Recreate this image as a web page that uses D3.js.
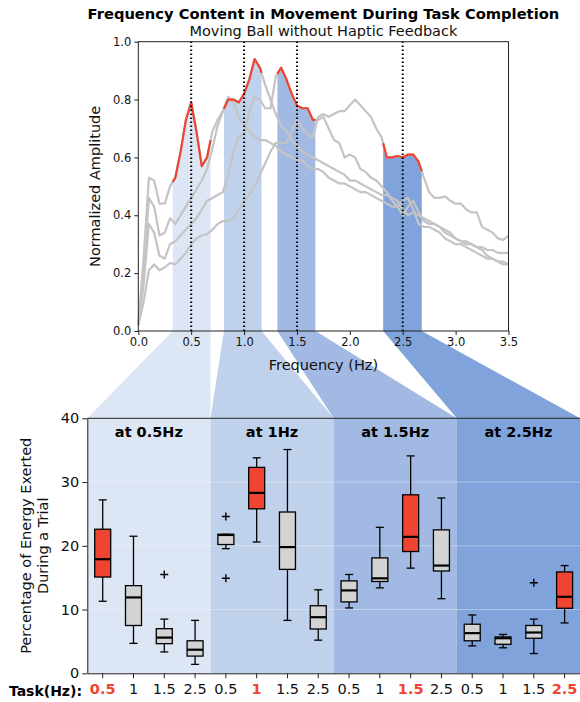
<!DOCTYPE html>
<html>
<head>
<meta charset="utf-8">
<script src="https://cdn.jsdelivr.net/npm/d3@7/dist/d3.min.js"></script>
<style>
  body { margin: 0; background: #fff; }
  svg { font-family: "DejaVu Sans", Verdana, sans-serif; }
</style>
</head>
<body>
<svg id="chart" width="580" height="702"></svg>
<script>
"use strict";

// frequency grid of the spectra (Hz)
var freqs = [0.00, 0.05, 0.10, 0.15, 0.20, 0.25, 0.30, 0.35, 0.40, 0.45,
  0.50, 0.55, 0.60, 0.65, 0.70, 0.75, 0.80, 0.85, 0.90, 0.95,
  1.00, 1.05, 1.10, 1.15, 1.20, 1.25, 1.30, 1.35, 1.40, 1.45,
  1.50, 1.55, 1.60, 1.65, 1.70, 1.75, 1.80, 1.85, 1.90, 1.95,
  2.00, 2.05, 2.10, 2.15, 2.20, 2.25, 2.30, 2.35, 2.40, 2.45,
  2.50, 2.55, 2.60, 2.65, 2.70, 2.75, 2.80, 2.85, 2.90, 2.95,
  3.00, 3.05, 3.10, 3.15, 3.20, 3.25, 3.30, 3.35, 3.40, 3.45, 3.50];

// normalized amplitude of the four trials
var amp_a = [0.02, 0.25, 0.53, 0.52, 0.44, 0.44, 0.50, 0.53, 0.62, 0.73,
  0.79, 0.69, 0.57, 0.60, 0.69, 0.73, 0.76, 0.81, 0.79, 0.74,
  0.71, 0.69, 0.67, 0.66, 0.66, 0.65, 0.64, 0.62, 0.61, 0.60,
  0.59, 0.59, 0.57, 0.56, 0.56, 0.55, 0.53, 0.52, 0.51, 0.51,
  0.50, 0.49, 0.48, 0.48, 0.47, 0.46, 0.45, 0.44, 0.43, 0.43,
  0.45, 0.46, 0.42, 0.37, 0.36, 0.36, 0.35, 0.34, 0.32, 0.31,
  0.30, 0.30, 0.29, 0.28, 0.27, 0.26, 0.25, 0.25, 0.24, 0.24, 0.23];
var amp_b = [0.02, 0.20, 0.46, 0.43, 0.33, 0.34, 0.39, 0.37, 0.40, 0.43,
  0.46, 0.49, 0.52, 0.56, 0.63, 0.71, 0.76, 0.80, 0.80, 0.79,
  0.82, 0.87, 0.94, 0.91, 0.85, 0.80, 0.75, 0.71, 0.69, 0.66,
  0.64, 0.62, 0.61, 0.60, 0.59, 0.58, 0.57, 0.56, 0.55, 0.54,
  0.52, 0.52, 0.51, 0.50, 0.49, 0.48, 0.47, 0.47, 0.46, 0.45,
  0.42, 0.40, 0.41, 0.40, 0.39, 0.38, 0.37, 0.36, 0.35, 0.34,
  0.32, 0.31, 0.30, 0.30, 0.29, 0.29, 0.28, 0.28, 0.27, 0.27, 0.27];
var amp_c = [0.02, 0.16, 0.37, 0.34, 0.26, 0.25, 0.30, 0.31, 0.33, 0.35,
  0.37, 0.39, 0.42, 0.45, 0.46, 0.47, 0.48, 0.54, 0.62, 0.67,
  0.68, 0.76, 0.81, 0.80, 0.77, 0.77, 0.88, 0.91, 0.87, 0.82,
  0.78, 0.77, 0.77, 0.73, 0.73, 0.74, 0.70, 0.66, 0.65, 0.60,
  0.61, 0.60, 0.56, 0.55, 0.53, 0.52, 0.50, 0.48, 0.45, 0.43,
  0.40, 0.43, 0.45, 0.41, 0.38, 0.37, 0.37, 0.36, 0.34, 0.33,
  0.32, 0.31, 0.31, 0.30, 0.29, 0.28, 0.26, 0.25, 0.24, 0.23, 0.23];
var amp_d = [0.02, 0.10, 0.21, 0.23, 0.21, 0.22, 0.235, 0.23, 0.25, 0.27,
  0.30, 0.32, 0.33, 0.335, 0.35, 0.37, 0.38, 0.38, 0.39, 0.42,
  0.45, 0.47, 0.50, 0.54, 0.58, 0.62, 0.65, 0.65, 0.65, 0.69,
  0.73, 0.70, 0.68, 0.67, 0.74, 0.75, 0.74, 0.75, 0.76, 0.76,
  0.78, 0.80, 0.78, 0.76, 0.74, 0.70, 0.67, 0.60, 0.60, 0.605,
  0.60, 0.61, 0.61, 0.585, 0.53, 0.48, 0.46, 0.46, 0.465, 0.45,
  0.44, 0.44, 0.42, 0.41, 0.41, 0.36, 0.35, 0.34, 0.32, 0.315, 0.33];
var curves = [amp_a, amp_b, amp_c, amp_d];

// highlighted frequency bands and the trial that is red in each
var band_hz = [0.5, 1, 1.5, 2.5];
var band_lo = [0.325, 0.81, 1.315, 2.315];
var band_hi = [0.683, 1.165, 1.674, 2.68];
var band_curve = [0, 1, 2, 3];

// box plots: percentage of energy, 4 groups x 4 tasks
var task_labels = ['0.5', '1', '1.5', '2.5'];
var group_titles = ['at 0.5Hz', 'at 1Hz', 'at 1.5Hz', 'at 2.5Hz'];
var whisker_lo = [11.3, 4.7, 3.35, 1.4,  19.55, 20.6, 8.3, 5.2,  10.25, 13.4, 16.5, 11.7,  4.3, 4.0, 3.1, 7.9];
var q1 =         [15.1, 7.5, 4.65, 2.7,  20.2, 25.8, 16.3, 6.95,  11.2, 14.4, 19.1, 16.05,  5.1, 4.55, 5.5, 10.2];
var median =     [17.9, 11.9, 5.6, 3.7,  21.7, 28.3, 19.8, 8.8,  13.0, 14.9, 21.4, 16.9,  6.3, 5.5, 6.4, 12.0];
var q3 =         [22.6, 13.75, 7.0, 5.1,  21.8, 32.3, 25.3, 10.6,  14.5, 18.1, 28.0, 22.5,  7.7, 5.7, 7.5, 15.9];
var whisker_hi = [27.2, 21.5, 8.5, 8.3,  21.8, 33.8, 35.1, 13.1,  15.5, 22.9, 34.1, 27.5,  9.15, 6.1, 8.5, 16.9];
var outliers =   [[], [], [15.5], [],  [24.6, 14.9], [], [], [],  [], [], [], [],  [], [], [14.2], []];

var panel_colors = ['#dde6f4', '#c0d1ec', '#a1b9e3', '#7fa3da'];
var red = '#ee4431';
var gray_line = '#c4c4c4';
var ink = '#111';

function interp(vals, f) {
  var i = d3.bisectLeft(freqs, f);
  if (freqs[i] === f) return vals[i];
  var t = (f - freqs[i - 1]) / (freqs[i] - freqs[i - 1]);
  return vals[i - 1] + t * (vals[i] - vals[i - 1]);
}

function band_points(vals, lo, hi) {
  var pts = [[lo, interp(vals, lo)]];
  freqs.forEach(function (f, i) {
    if (f > lo && f < hi) pts.push([f, vals[i]]);
  });
  pts.push([hi, interp(vals, hi)]);
  return pts;
}

function draw_chart() {
  var svg = d3.select('#chart');

  // top spectrum axes
  var X = d3.scaleLinear().domain([0, 3.5]).range([138.3, 508.5]);
  var Y = d3.scaleLinear().domain([0, 1]).range([331, 41.7]);

  // bottom box plot axes
  var XB = d3.scaleBand().domain(d3.range(16)).range([87.3, 580]);
  var YB = d3.scaleLinear().domain([0, 40]).range([673.3, 418.3]);
  var bw = XB.bandwidth();

  // funnels linking the bands with the box plot panels
  var funnels = svg.append('g');
  band_hz.forEach(function (hz, g) {
    var pts = [[X(band_lo[g]), Y(0)], [X(band_hi[g]), Y(0)],
      [XB(4 * g + 3) + bw, YB(40)], [XB(4 * g), YB(40)]];
    funnels.append('polygon')
      .attr('points', pts.map(p => p.join(',')).join(' '))
      .attr('fill', panel_colors[g]);
  });

  // ---- top plot ----
  var top = svg.append('g');
  top.append('rect')
    .attr('x', X(0)).attr('y', Y(1))
    .attr('width', X(3.5) - X(0)).attr('height', Y(0) - Y(1))
    .attr('fill', '#fff');

  var area = d3.area().x(d => X(d[0])).y0(Y(0)).y1(d => Y(d[1]));
  var line = d3.line().x(d => X(d[0])).y(d => Y(d[1]));

  band_hz.forEach(function (hz, g) {
    var pts = band_points(curves[band_curve[g]], band_lo[g], band_hi[g]);
    top.append('path').attr('d', area(pts)).attr('fill', panel_colors[g]);
  });

  curves.forEach(function (vals) {
    top.append('path')
      .datum(freqs.map((f, i) => [f, vals[i]]))
      .attr('d', line)
      .attr('fill', 'none')
      .attr('stroke', gray_line)
      .attr('stroke-width', 2.2)
      .attr('stroke-linejoin', 'round');
  });

  band_hz.forEach(function (hz, g) {
    var pts = band_points(curves[band_curve[g]], band_lo[g], band_hi[g]);
    top.append('path')
      .attr('d', line(pts))
      .attr('fill', 'none')
      .attr('stroke', red)
      .attr('stroke-width', 2.2)
      .attr('stroke-linejoin', 'round');
  });

  band_hz.forEach(function (hz) {
    top.append('line')
      .attr('x1', X(hz)).attr('x2', X(hz))
      .attr('y1', Y(0)).attr('y2', Y(1))
      .attr('stroke', '#000')
      .attr('stroke-width', 2)
      .attr('stroke-dasharray', '1.6,2.4');
  });

  top.append('rect')
    .attr('x', X(0)).attr('y', Y(1))
    .attr('width', X(3.5) - X(0)).attr('height', Y(0) - Y(1))
    .attr('fill', 'none').attr('stroke', '#222').attr('stroke-width', 1);

  var xaxis = top.append('g')
    .attr('transform', 'translate(0,' + Y(0) + ')')
    .call(d3.axisBottom(X).tickValues(d3.range(0, 3.51, 0.5))
      .tickFormat(d3.format('.1f')).tickSize(4).tickSizeOuter(0));
  var yaxis = top.append('g')
    .attr('transform', 'translate(' + X(0) + ',0)')
    .call(d3.axisLeft(Y).tickValues(d3.range(0, 1.01, 0.2))
      .tickFormat(d3.format('.1f')).tickSize(4).tickSizeOuter(0));
  [xaxis, yaxis].forEach(function (ax) {
    ax.select('.domain').remove();
    ax.selectAll('line').attr('stroke', '#222');
    ax.selectAll('text').attr('fill', ink)
      .style('font-family', '"DejaVu Sans", Verdana, sans-serif')
      .style('font-size', '11.5px');
  });

  top.append('text')
    .attr('x', 323.4).attr('y', 19)
    .attr('text-anchor', 'middle')
    .style('font-weight', 'bold').style('font-size', '14.7px')
    .attr('fill', '#000')
    .text('Frequency Content in Movement During Task Completion');
  top.append('text')
    .attr('x', 323.4).attr('y', 36)
    .attr('text-anchor', 'middle')
    .style('font-size', '14.5px')
    .attr('fill', ink)
    .text('Moving Ball without Haptic Feedback');
  top.append('text')
    .attr('transform', 'translate(100,' + ((Y(0) + Y(1)) / 2) + ') rotate(-90)')
    .attr('text-anchor', 'middle')
    .style('font-size', '14.5px')
    .attr('fill', ink)
    .text('Normalized Amplitude');
  top.append('text')
    .attr('x', 323.4).attr('y', 370)
    .attr('text-anchor', 'middle')
    .style('font-size', '14.5px')
    .attr('fill', ink)
    .text('Frequency (Hz)');

  // ---- bottom plot ----
  var bot = svg.append('g');
  group_titles.forEach(function (title, g) {
    var x0 = XB(4 * g), x1 = XB(4 * g + 3) + bw;
    bot.append('rect')
      .attr('x', x0).attr('y', YB(40))
      .attr('width', x1 - x0).attr('height', YB(0) - YB(40))
      .attr('fill', panel_colors[g]);
    bot.append('text')
      .attr('x', (x0 + x1) / 2).attr('y', 437)
      .attr('text-anchor', 'middle')
      .style('font-weight', 'bold').style('font-size', '14.5px')
      .attr('fill', '#000')
      .text(title);
  });

  [10, 20, 30].forEach(function (v) {
    bot.append('line')
      .attr('x1', XB(0)).attr('x2', 580)
      .attr('y1', YB(v)).attr('y2', YB(v))
      .attr('stroke', '#fff').attr('stroke-opacity', 0.35).attr('stroke-width', 1);
  });

  d3.range(16).forEach(function (i) {
    var cx = XB(i) + bw / 2;
    var hl = (i % 4) === Math.floor(i / 4);
    var g = bot.append('g').attr('stroke', '#000').attr('stroke-width', 1.3);
    g.append('line').attr('x1', cx).attr('x2', cx)
      .attr('y1', YB(q3[i])).attr('y2', YB(whisker_hi[i]));
    g.append('line').attr('x1', cx).attr('x2', cx)
      .attr('y1', YB(q1[i])).attr('y2', YB(whisker_lo[i]));
    g.append('line').attr('x1', cx - 4).attr('x2', cx + 4)
      .attr('y1', YB(whisker_hi[i])).attr('y2', YB(whisker_hi[i]));
    g.append('line').attr('x1', cx - 4).attr('x2', cx + 4)
      .attr('y1', YB(whisker_lo[i])).attr('y2', YB(whisker_lo[i]));
    g.append('rect')
      .attr('x', cx - 8).attr('width', 16)
      .attr('y', YB(q3[i])).attr('height', YB(q1[i]) - YB(q3[i]))
      .attr('fill', hl ? red : '#d3d3d3');
    g.append('line').attr('x1', cx - 8).attr('x2', cx + 8)
      .attr('y1', YB(median[i])).attr('y2', YB(median[i]))
      .attr('stroke-width', 2.2);
    outliers[i].forEach(function (v) {
      g.append('path')
        .attr('d', 'M' + (cx - 4) + ',' + YB(v) + 'h8M' + cx + ',' + (YB(v) - 4) + 'v8')
        .attr('stroke-width', 1.4);
    });
  });

  bot.append('line')
    .attr('x1', XB(0)).attr('x2', 580).attr('y1', YB(40)).attr('y2', YB(40))
    .attr('stroke', '#222').attr('stroke-width', 1);

  var bx = bot.append('g')
    .attr('transform', 'translate(0,' + YB(0) + ')')
    .call(d3.axisBottom(XB).tickSize(5).tickSizeOuter(0)
      .tickFormat(i => task_labels[i % 4]));
  bx.select('.domain').attr('stroke', '#222');
  bx.selectAll('line').attr('stroke', '#222');
  bx.selectAll('text')
    .attr('y', 10)
    .attr('fill', i => (i % 4) === Math.floor(i / 4) ? red : ink)
    .style('font-weight', i => (i % 4) === Math.floor(i / 4) ? 'bold' : 'normal')
    .style('font-family', '"DejaVu Sans", Verdana, sans-serif')
    .style('font-size', '14.5px');

  var by = bot.append('g')
    .attr('transform', 'translate(' + XB(0) + ',0)')
    .call(d3.axisLeft(YB).tickValues([0, 10, 20, 30, 40]).tickSize(5).tickSizeOuter(0));
  by.select('.domain').attr('stroke', '#222');
  by.selectAll('line').attr('stroke', '#222');
  by.selectAll('text').attr('fill', ink)
    .style('font-family', '"DejaVu Sans", Verdana, sans-serif')
    .style('font-size', '14.5px');

  bot.append('text')
    .attr('x', 82).attr('y', 696)
    .attr('text-anchor', 'end')
    .style('font-weight', 'bold').style('font-size', '14px')
    .attr('fill', '#000')
    .text('Task(Hz):');

  var ylab = bot.append('text')
    .attr('transform', 'translate(31,' + ((YB(0) + YB(40)) / 2) + ') rotate(-90)')
    .attr('text-anchor', 'middle')
    .style('font-size', '14.5px')
    .attr('fill', ink);
  ylab.append('tspan').attr('x', 0).attr('dy', 0).text('Percentage of Energy Exerted');
  ylab.append('tspan').attr('x', 0).attr('dy', 17).text('During a Trial');
}

draw_chart();
</script>
</body>
</html>
